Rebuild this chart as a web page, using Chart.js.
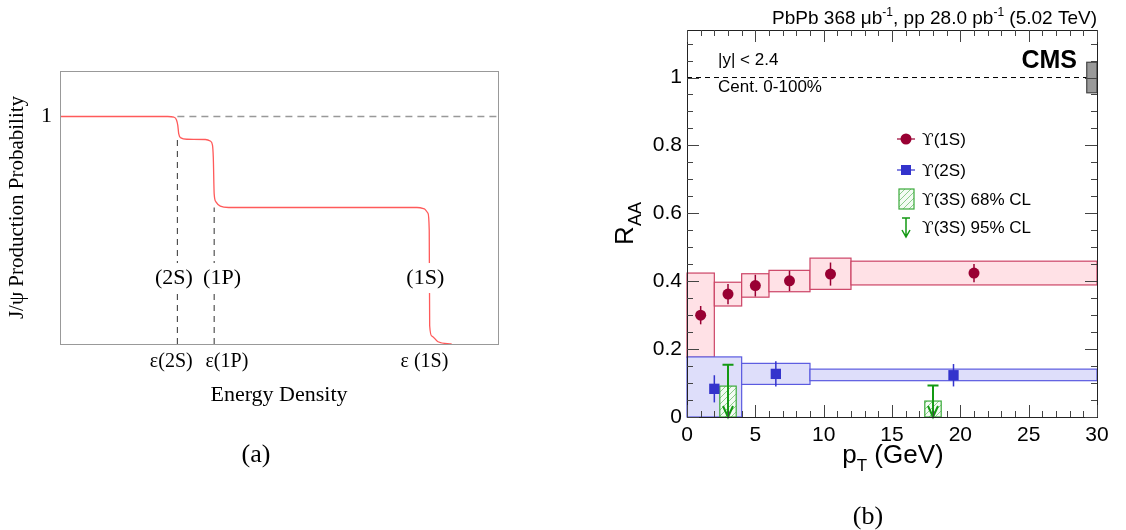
<!DOCTYPE html>
<html>
<head>
<meta charset="utf-8">
<script src="https://cdn.jsdelivr.net/npm/chart.js@4.4.1/dist/chart.umd.min.js"></script>
<style>
html, body { margin: 0; padding: 0; background: #fff; width: 1126px; height: 530px; overflow: hidden; }
#wa { position: absolute; left: 0; top: 0; width: 560px; height: 530px; }
#wb { position: absolute; left: 560px; top: 0; width: 566px; height: 530px; }
</style>
</head>
<body>
<div id="wa"><canvas id="chartA" width="560" height="530"></canvas></div>
<div id="wb"><canvas id="chartB" width="566" height="530"></canvas></div>
<script>
// ---- panel (a): sequential suppression sketch
const curveX = [0, 24.6, 26.0, 26.6, 26.9, 27.1, 27.6, 29.0, 33.2, 34.3, 34.8, 35.0, 35.2, 35.6, 36.6, 38.5, 81.5, 83.2, 84.0, 84.3, 84.4, 84.9, 86.3, 89.4];
const curveY = [1, 1, 0.997, 0.985, 0.96, 0.925, 0.906, 0.9, 0.899, 0.892, 0.875, 0.82, 0.66, 0.625, 0.606, 0.6, 0.6, 0.594, 0.575, 0.5, 0.08, 0.035, 0.01, 0];
const epsLabels = ['ε(2S)', 'ε(1P)', 'ε (1S)'];
const epsTicks = [25.4, 38.1, 83.2];
const guideX = [26.8, 35.2];
const guideTop = [0.9, 0.6];
const stateLabels = ['(2S)', '(1P)', '(1S)'];
const stateX = [26.0, 37.0, 83.4];
const stateY = 0.29;

// ---- panel (b): CMS upsilon RAA vs pT
const ups1sPt = [1, 3, 5, 7.5, 10.5, 21];
const ups1sRaa = [0.30, 0.362, 0.387, 0.401, 0.421, 0.424];
const ups1sStat = [0.027, 0.03, 0.032, 0.03, 0.034, 0.027];
const ups1sBinLo = [0, 2, 4, 6, 9, 12];
const ups1sBinHi = [2, 4, 6, 9, 12, 30];
const ups1sSysLo = [0.176, 0.327, 0.353, 0.369, 0.376, 0.389];
const ups1sSysHi = [0.424, 0.397, 0.422, 0.432, 0.468, 0.459];

const ups2sPt = [2, 6.5, 19.5];
const ups2sRaa = [0.083, 0.127, 0.123];
const ups2sStat = [0.04, 0.037, 0.033];
const ups2sBinLo = [0, 4, 9];
const ups2sBinHi = [4, 9, 30];
const ups2sSysLo = [0, 0.096, 0.107];
const ups2sSysHi = [0.177, 0.158, 0.141];

const ups3sPt = [3, 18];
const ups3sLim68 = [0.091, 0.047];
const ups3sLim95 = [0.154, 0.093];
const globalUnc = 0.045;

const xMajor = [0, 5, 10, 15, 20, 25, 30];
const yMajor = [0, 0.2, 0.4, 0.6, 0.8, 1];
const legendStates = ['(1S)', '(2S)', '(3S) 68% CL', '(3S) 95% CL'];

const SANS = '"Liberation Sans", Arial, sans-serif';
const SERIF = '"Liberation Serif", "Times New Roman", serif';

function richText(ctx, parts, x, y, align) {
    let w = 0;
    parts.forEach(p => { ctx.font = p.font; p.w = ctx.measureText(p.text).width; w += p.w; });
    let cx = align === 'right' ? x - w : align === 'center' ? x - w / 2 : x;
    ctx.textAlign = 'left';
    ctx.textBaseline = 'alphabetic';
    parts.forEach(p => { ctx.font = p.font; ctx.fillText(p.text, cx, y + (p.dy || 0)); cx += p.w; });
}

function line(ctx, x1, y1, x2, y2) {
    ctx.beginPath(); ctx.moveTo(x1, y1); ctx.lineTo(x2, y2); ctx.stroke();
}

// panel (a) decorations
const sketchPlugin = {
    id: 'sketch',
    beforeDatasetsDraw(chart) {
        const { ctx, scales: { x, y } } = chart;
        ctx.save();
        ctx.lineWidth = 1.3;
        ctx.strokeStyle = '#999';
        ctx.setLineDash([7, 5]);
        line(ctx, x.getPixelForValue(guideX[0]), y.getPixelForValue(1), x.getPixelForValue(100), y.getPixelForValue(1));
        ctx.strokeStyle = '#444';
        ctx.lineWidth = 1.1;
        ctx.setLineDash([6, 5]);
        guideX.forEach((g, i) => {
            line(ctx, x.getPixelForValue(g), y.getPixelForValue(0), x.getPixelForValue(g), y.getPixelForValue(guideTop[i]));
        });
        ctx.restore();
    },
    afterDatasetsDraw(chart) {
        const { ctx, chartArea: a, scales: { x, y } } = chart;
        ctx.save();
        ctx.font = '22px ' + SERIF;
        ctx.textAlign = 'center';
        ctx.textBaseline = 'middle';
        stateLabels.forEach((t, i) => {
            const px = x.getPixelForValue(stateX[i]);
            const py = y.getPixelForValue(stateY);
            const w = ctx.measureText(t).width;
            ctx.fillStyle = '#fff';
            ctx.fillRect(px - w / 2 - 2, py - 15, w + 4, 30);
            ctx.fillStyle = '#000';
            ctx.fillText(t, px, py);
        });
        ctx.strokeStyle = '#999';
        ctx.lineWidth = 1;
        ctx.strokeRect(a.left + 0.5, a.top + 0.5, a.right - a.left, a.bottom - a.top);
        ctx.font = '26px ' + SERIF;
        ctx.fillText('(a)', (a.left + a.right) / 2 - 23, 455);
        ctx.restore();
    }
};

new Chart(document.getElementById('chartA'), {
    type: 'scatter',
    data: {
        datasets: [{
            data: curveX.map((v, i) => ({ x: v, y: curveY[i] })),
            showLine: true,
            cubicInterpolationMode: 'monotone',
            borderColor: '#ff5a5a',
            borderWidth: 1.3,
            pointRadius: 0
        }]
    },
    options: {
        responsive: false,
        animation: false,
        devicePixelRatio: 1,
        layout: { padding: { left: 0, right: 62, top: 71, bottom: 0 } },
        plugins: { legend: { display: false }, tooltip: { enabled: false } },
        scales: {
            x: {
                type: 'linear', min: 0, max: 100,
                grid: { display: false, drawTicks: false },
                border: { display: false },
                afterBuildTicks: s => { s.ticks = epsTicks.map(v => ({ value: v })); },
                afterFit: s => { s.height = 186; },
                ticks: {
                    autoSkip: false, maxRotation: 0, padding: 6, color: '#000',
                    font: { family: SERIF, size: 20 },
                    callback: (v, i) => epsLabels[i]
                },
                title: {
                    display: true, text: 'Energy Density', color: '#000',
                    font: { family: SERIF, size: 22 },
                    padding: { top: 0, bottom: 122 }
                }
            },
            y: {
                type: 'linear', min: 0, max: 1.2,
                grid: { display: false, drawTicks: false },
                border: { display: false },
                afterBuildTicks: s => { s.ticks = [{ value: 1 }]; },
                afterFit: s => { s.width = 60; },
                ticks: { padding: 8, color: '#000', font: { family: SERIF, size: 22 }, callback: () => '1' },
                title: {
                    display: true, text: 'J/ψ Production Probability', color: '#000',
                    font: { family: SERIF, size: 21 },
                    padding: { top: 5, bottom: 0 }
                }
            }
        }
    },
    plugins: [sketchPlugin]
});

// panel (b) decorations in ROOT style
function hatchPattern(ctx) {
    const c = document.createElement('canvas');
    c.width = 6; c.height = 6;
    const g = c.getContext('2d');
    g.fillStyle = '#f3fbf3';
    g.fillRect(0, 0, 6, 6);
    g.strokeStyle = '#8ccc8c';
    g.lineWidth = 1;
    g.beginPath();
    g.moveTo(0, 6); g.lineTo(6, 0);
    g.moveTo(-3, 3); g.lineTo(3, -3);
    g.moveTo(3, 9); g.lineTo(9, 3);
    g.stroke();
    return ctx.createPattern(c, 'repeat');
}

function drawLimitArrow(ctx, px, pTop, pBot) {
    ctx.beginPath();
    ctx.moveTo(px, pTop); ctx.lineTo(px, pBot);
    ctx.moveTo(px - 5.5, pTop); ctx.lineTo(px + 5.5, pTop);
    ctx.moveTo(px - 5, pBot - 11); ctx.lineTo(px, pBot); ctx.lineTo(px + 5, pBot - 11);
    ctx.stroke();
}

const rootPlugin = {
    id: 'rootStyle',
    beforeDatasetsDraw(chart) {
        const { ctx, chartArea: a, scales: { x, y } } = chart;
        ctx.save();
        // unity line
        ctx.strokeStyle = '#000';
        ctx.lineWidth = 1;
        ctx.setLineDash([5, 4]);
        line(ctx, a.left, y.getPixelForValue(1), a.right, y.getPixelForValue(1));
        ctx.setLineDash([]);
        // systematic boxes
        const box = (lo, hi, ylo, yhi, fill, stroke) => {
            const x1 = x.getPixelForValue(lo), x2 = x.getPixelForValue(hi);
            const y1 = y.getPixelForValue(yhi), y2 = y.getPixelForValue(ylo);
            ctx.fillStyle = fill;
            ctx.fillRect(x1, y1, x2 - x1, y2 - y1);
            ctx.strokeStyle = stroke;
            ctx.lineWidth = 1.2;
            ctx.strokeRect(x1, y1, x2 - x1, y2 - y1);
        };
        ups1sBinLo.forEach((lo, i) => box(lo, ups1sBinHi[i], ups1sSysLo[i], ups1sSysHi[i], '#ffe1e6', '#cc4466'));
        ups2sBinLo.forEach((lo, i) => box(lo, ups2sBinHi[i], ups2sSysLo[i], ups2sSysHi[i], '#dedefa', '#5a5ae0'));
        // global uncertainty
        box(29.25, 30, 1 - globalUnc, 1 + globalUnc, '#9a9a9a', '#444');
        // 3S 68% CL hatched boxes
        const pat = hatchPattern(ctx);
        ups3sPt.forEach((p, i) => box(p - 0.6, p + 0.6, 0, ups3sLim68[i], pat, '#3aaa3a'));
        // stat error bars
        ctx.lineWidth = 1.5;
        ctx.strokeStyle = '#990033';
        ups1sPt.forEach((p, i) => line(ctx, x.getPixelForValue(p), y.getPixelForValue(ups1sRaa[i] - ups1sStat[i]), x.getPixelForValue(p), y.getPixelForValue(ups1sRaa[i] + ups1sStat[i])));
        ctx.strokeStyle = '#3333cc';
        ups2sPt.forEach((p, i) => line(ctx, x.getPixelForValue(p), y.getPixelForValue(ups2sRaa[i] - ups2sStat[i]), x.getPixelForValue(p), y.getPixelForValue(ups2sRaa[i] + ups2sStat[i])));
        ctx.restore();
    },
    afterDatasetsDraw(chart) {
        const { ctx, chartArea: a, scales: { x, y } } = chart;
        ctx.save();
        // 3S 95% CL arrows
        ctx.strokeStyle = '#139913';
        ctx.lineWidth = 2;
        ups3sPt.forEach((p, i) => drawLimitArrow(ctx, x.getPixelForValue(p), y.getPixelForValue(ups3sLim95[i]), y.getPixelForValue(0)));
        // frame and inward ticks
        ctx.strokeStyle = '#222';
        ctx.lineWidth = 1;
        ctx.strokeRect(a.left + 0.5, a.top + 0.5, a.right - a.left, a.bottom - a.top);
        ctx.strokeStyle = '#444';
        for (let v = 0; v <= 30; v += 1) {
            const px = Math.round(x.getPixelForValue(v)) + 0.5;
            const L = v % 5 === 0 ? 12 : 6;
            line(ctx, px, a.bottom, px, a.bottom - L);
            line(ctx, px, a.top, px, a.top + L);
        }
        for (let k = 0; k <= 22; k++) {
            const py = Math.round(y.getPixelForValue(k * 0.05)) + 0.5;
            const L = k % 4 === 0 ? 12 : 6;
            line(ctx, a.left, py, a.left + L, py);
            line(ctx, a.right, py, a.right - L, py);
        }
        // texts
        ctx.fillStyle = '#000';
        richText(ctx, [
            { text: 'PbPb 368 μb', font: '19px ' + SANS },
            { text: '-1', font: '12px ' + SANS, dy: -8 },
            { text: ', pp 28.0 pb', font: '19px ' + SANS },
            { text: '-1', font: '12px ' + SANS, dy: -8 },
            { text: ' (5.02 TeV)', font: '19px ' + SANS }
        ], a.right, 24, 'right');
        richText(ctx, [{ text: '|y| < 2.4', font: '17px ' + SANS }], a.left + 31, 65, 'left');
        richText(ctx, [{ text: 'Cent. 0-100%', font: '17px ' + SANS }], a.left + 31, 92, 'left');
        richText(ctx, [{ text: 'CMS', font: 'bold 25px ' + SANS }], a.right - 20, 68, 'right');
        // axis titles
        richText(ctx, [
            { text: 'p', font: '26px ' + SANS },
            { text: 'T', font: '17px ' + SANS, dy: 8 },
            { text: ' (GeV)', font: '26px ' + SANS }
        ], (a.left + a.right) / 2 + 1, 463, 'center');
        ctx.save();
        ctx.translate(73, (a.top + a.bottom) / 2);
        ctx.rotate(-Math.PI / 2);
        richText(ctx, [
            { text: 'R', font: '26px ' + SANS },
            { text: 'AA', font: '18px ' + SANS, dy: 8 }
        ], 0, 0, 'center');
        ctx.restore();
        // legend
        const lx = 346, tx = 362;
        const rows = [139, 170, 199, 227];
        ctx.lineWidth = 1.2;
        ctx.strokeStyle = '#990033';
        line(ctx, lx - 9, rows[0], lx + 9, rows[0]);
        ctx.fillStyle = '#990033';
        ctx.beginPath(); ctx.arc(lx, rows[0], 5.5, 0, 2 * Math.PI); ctx.fill();
        ctx.strokeStyle = '#3333cc';
        line(ctx, lx - 9, rows[1], lx + 9, rows[1]);
        ctx.fillStyle = '#3333cc';
        ctx.fillRect(lx - 5, rows[1] - 5, 10, 10);
        ctx.fillStyle = hatchPattern(ctx);
        ctx.fillRect(lx - 7, rows[2] - 10, 15, 20);
        ctx.strokeStyle = '#3aaa3a';
        ctx.strokeRect(lx - 7, rows[2] - 10, 15, 20);
        ctx.strokeStyle = '#139913';
        ctx.lineWidth = 1.5;
        ctx.beginPath();
        ctx.moveTo(lx - 4, rows[3] - 9); ctx.lineTo(lx + 4, rows[3] - 9);
        ctx.moveTo(lx, rows[3] - 9); ctx.lineTo(lx, rows[3] + 10);
        ctx.moveTo(lx - 4, rows[3] + 3); ctx.lineTo(lx, rows[3] + 10); ctx.lineTo(lx + 4, rows[3] + 3);
        ctx.stroke();
        ctx.fillStyle = '#000';
        legendStates.forEach((t, i) => richText(ctx, [
            { text: 'ϒ', font: '17px "DejaVu Serif", "DejaVu Sans", serif' },
            { text: t, font: '17px ' + SANS }
        ], tx, rows[i] + 6, 'left'));
        // panel tag
        ctx.font = '26px ' + SERIF;
        ctx.textAlign = 'center';
        ctx.textBaseline = 'middle';
        ctx.fillText('(b)', 308, 517);
        ctx.restore();
    }
};

new Chart(document.getElementById('chartB'), {
    type: 'scatter',
    data: {
        datasets: [
            {
                label: 'ϒ(1S)',
                data: ups1sPt.map((v, i) => ({ x: v, y: ups1sRaa[i] })),
                pointStyle: 'circle', pointRadius: 5.5, borderWidth: 0,
                backgroundColor: '#990033', borderColor: '#990033'
            },
            {
                label: 'ϒ(2S)',
                data: ups2sPt.map((v, i) => ({ x: v, y: ups2sRaa[i] })),
                pointStyle: 'rect', pointRadius: 7.3, borderWidth: 0,
                backgroundColor: '#3333cc', borderColor: '#3333cc'
            }
        ]
    },
    options: {
        responsive: false,
        animation: false,
        devicePixelRatio: 1,
        layout: { padding: { left: 0, right: 29, top: 30, bottom: 0 } },
        plugins: { legend: { display: false }, tooltip: { enabled: false } },
        scales: {
            x: {
                type: 'linear', min: 0, max: 30,
                grid: { display: false, drawTicks: false },
                border: { display: false },
                afterBuildTicks: s => { s.ticks = xMajor.map(v => ({ value: v })); },
                afterFit: s => { s.height = 113; },
                ticks: { autoSkip: false, maxRotation: 0, padding: 6, color: '#000', font: { family: SANS, size: 21 } }
            },
            y: {
                type: 'linear', min: 0, max: 1.14,
                grid: { display: false, drawTicks: false },
                border: { display: false },
                afterBuildTicks: s => { s.ticks = yMajor.map(v => ({ value: v })); },
                afterFit: s => { s.width = 127; },
                ticks: { padding: 5, color: '#000', font: { family: SANS, size: 21 }, callback: v => String(+(+v).toFixed(1)) }
            }
        }
    },
    plugins: [rootPlugin]
});
</script>
</body>
</html>
